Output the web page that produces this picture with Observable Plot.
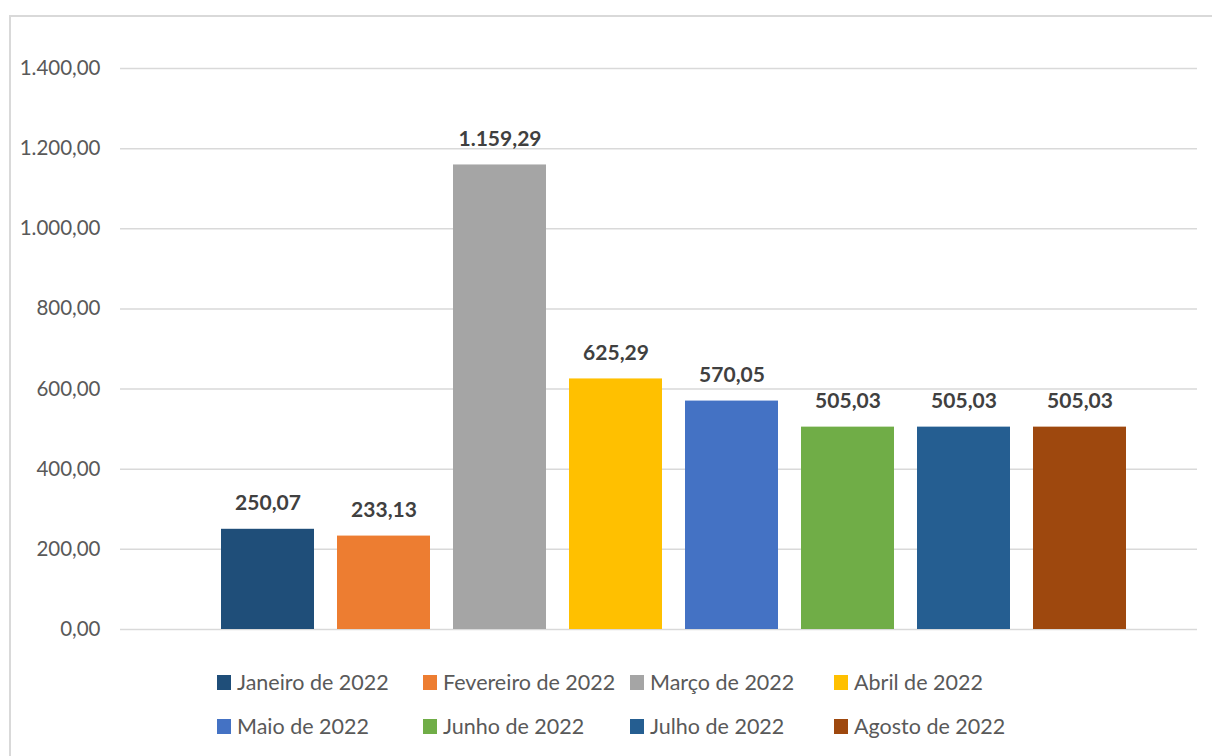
<!DOCTYPE html>
<html><head><meta charset="utf-8">
<script src="https://cdn.jsdelivr.net/npm/d3@7"></script>
<script src="https://cdn.jsdelivr.net/npm/@observablehq/plot@0.6"></script>
<style>
body{margin:0;background:#fff;font-family:Lato,"Open Sans",sans-serif;}
#wrap{position:relative;width:1212px;height:756px;overflow:hidden;background:#fff;}
#frame{position:absolute;left:9px;top:15px;width:1230px;height:770px;border:2px solid #d9d9d9;box-sizing:border-box;}
#chart{position:absolute;left:0;top:0;}
#legend{position:absolute;left:217px;top:668px;display:grid;grid-template-columns:206px 207px 204px 230px;row-gap:16px;font-size:21.5px;color:#595959;}
.item{display:flex;align-items:center;height:28px;white-space:nowrap;}
.sw{width:14px;height:15px;margin-right:6px;flex:none;}
</style>
</head><body>
<div id="wrap"><div id="frame"></div><div id="chart"></div><div id="legend"></div></div>
<script>
const months = ["Janeiro de 2022","Fevereiro de 2022","Março de 2022","Abril de 2022","Maio de 2022","Junho de 2022","Julho de 2022","Agosto de 2022"];
const values = [250.07, 233.13, 1159.29, 625.29, 570.05, 505.03, 505.03, 505.03];
const colors = ["#1F4E79","#ED7D31","#A5A5A5","#FFC000","#4472C4","#70AD47","#255E91","#9E480E"];
const yTicks = [0, 200, 400, 600, 800, 1000, 1200, 1400];

const loc = d3.formatLocale({decimal: ",", thousands: ".", grouping: [3], currency: ["R$ ", ""]});
const fmt = loc.format(",.2f");
const data = months.map((m, i) => ({m, v: values[i]}));

const chart = Plot.plot({
  width: 1212, height: 660,
  marginLeft: 120, marginRight: 15, marginTop: 68, marginBottom: 31,
  x: {domain: months, range: [197, 1149], padding: 0.2, axis: null},
  y: {domain: [0, 1400], label: null, axis: null},
  color: {domain: months, range: colors},
  style: {fontFamily: "Lato, 'Open Sans', sans-serif", background: "transparent"},
  marks: [
    Plot.gridY(yTicks, {stroke: "#d9d9d9", strokeOpacity: 1, strokeWidth: 1.5}),
    Plot.barY(data, {x: "m", y: "v", fill: "m"}),
    Plot.text(data, {x: "m", y: "v", text: d => fmt(d.v), dy: -26, fontWeight: "bold", fill: "#404040", fontSize: 21}),
    Plot.axisY(yTicks, {tickSize: 0, tickPadding: 20, tickFormat: fmt, fontSize: 20.5, fill: "#595959", label: null})
  ]
});
document.getElementById("chart").appendChild(chart);

const legend = document.getElementById("legend");
months.forEach((m, i) => {
  const it = document.createElement("div");
  it.className = "item";
  const sw = document.createElement("span");
  sw.className = "sw";
  sw.style.background = colors[i];
  const t = document.createElement("span");
  t.textContent = m;
  it.appendChild(sw); it.appendChild(t);
  legend.appendChild(it);
});
</script>
</body></html>
